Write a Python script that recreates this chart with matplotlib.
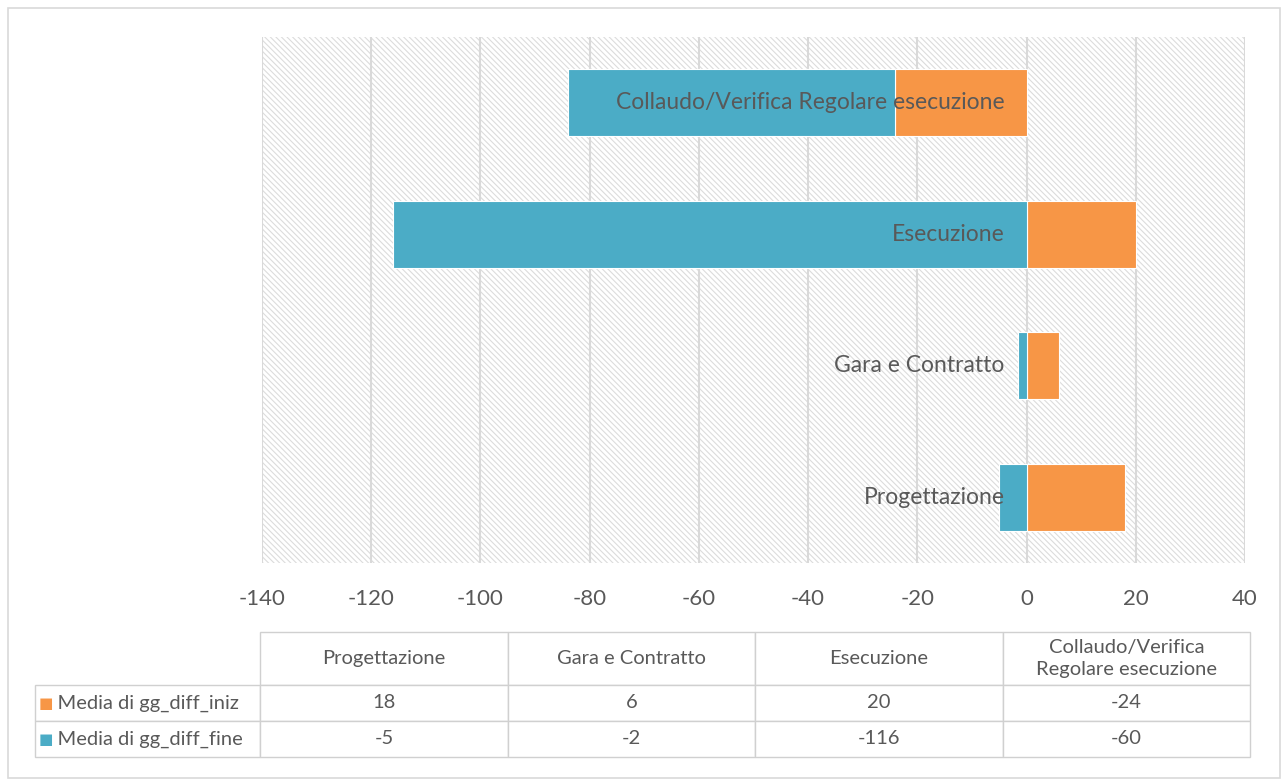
import numpy as np
import matplotlib
matplotlib.use("Agg")
import matplotlib.pyplot as plt
from matplotlib.patches import Rectangle

plt.rcParams["font.family"] = ["Lato", "DejaVu Sans"]
plt.rcParams["hatch.linewidth"] = 0.8

# data
categories = ["Progettazione", "Gara e Contratto", "Esecuzione",
              "Collaudo/Verifica Regolare esecuzione"]
table_headers = ["Progettazione", "Gara e Contratto", "Esecuzione",
                 "Collaudo/Verifica\nRegolare esecuzione"]
series_names = ["Media di gg_diff_iniz", "Media di gg_diff_fine"]
gg_diff_iniz = np.array([18, 6, 20, -24])
gg_diff_fine = np.array([-5, -1.5, -116, -60])
xticks = [-140, -120, -100, -80, -60, -40, -20, 0, 20, 40]

ORANGE = "#F79646"
TEAL = "#4BACC6"
TXT = "#595959"
GRID = "#d9d9d9"

fig = plt.figure(figsize=(12.87, 7.84), dpi=100)
ax = fig.add_axes([262 / 1287, 1 - 563 / 784, 983 / 1287, 526 / 784])

# hatched plot background
bg = Rectangle((0, 0), 1, 1, transform=ax.transAxes, facecolor="white",
               edgecolor="#dcdcdc", hatch="\\\\\\\\\\\\", lw=0, zorder=0)
ax.add_patch(bg)

y = np.arange(len(categories))
# Excel-style stacking: negatives stack on negatives
left_fine = np.where((gg_diff_iniz < 0) & (gg_diff_fine < 0), gg_diff_iniz, 0)
ax.barh(y, gg_diff_iniz, height=0.51, color=ORANGE, edgecolor="white",
        lw=0.8, zorder=3)
ax.barh(y, gg_diff_fine, left=left_fine, height=0.51, color=TEAL,
        edgecolor="white", lw=0.8, zorder=3)

for yi, name in zip(y, categories):
    ax.text(-4, yi, name, ha="right", va="center", fontsize=16.5, color=TXT,
            zorder=5)

ax.set_xlim(-140, 40)
ax.set_ylim(-0.5, 3.5)
ax.set_xticks(xticks)
ax.set_xticklabels([str(t) for t in xticks], fontsize=16, color=TXT)
ax.tick_params(axis="x", length=0, pad=19)
ax.set_yticks([])
ax.grid(axis="x", color=GRID, lw=1.5, zorder=1)
ax.set_axisbelow(True)
for s in ax.spines.values():
    s.set_visible(False)

# data table below the chart
cell_text = [[""] + table_headers,
             ["    " + series_names[0]] + [f"{v:.0f}" for v in gg_diff_iniz],
             ["    " + series_names[1]] + [f"{v:.0f}" for v in gg_diff_fine]]
widths = np.array([225, 247, 247, 247, 247], dtype=float)
x0 = (35 - 262) / 983
x1 = (1250 - 262) / 983
y0 = (563 - 757) / 526
y1 = (563 - 632) / 526
tab = ax.table(cellText=cell_text, colWidths=list(widths / widths.sum()),
               cellLoc="center", bbox=[x0, y0, x1 - x0, y1 - y0])
tab.auto_set_font_size(False)
row_h = [53, 36, 36]
for (r, c), cell in tab.get_celld().items():
    cell.set_edgecolor("#d0d0d0")
    cell.set_linewidth(1.0)
    cell.set_height(row_h[r])
    cell.get_text().set_fontsize(14.5)
    cell.get_text().set_color(TXT)
    cell.get_text().set_linespacing(1.35)
    if c == 0:
        cell.get_text().set_ha("left")
        cell._loc = "left"
        cell.PAD = 0.01
tab.get_celld()[(0, 0)].visible_edges = ""

# coloured legend keys in the row label cells
for k, col in enumerate([ORANGE, TEAL]):
    yc = 1 - (632 + 53 + 36 * k + 18) / 784
    fig.text(46 / 1287, yc, "■", color=col, fontsize=11, ha="center",
             va="center", family="DejaVu Sans")

# outer frame
fig.patches.append(Rectangle((8 / 1287, 6 / 784), 1272 / 1287, 770 / 784,
                             transform=fig.transFigure, fill=False,
                             edgecolor="#d9d9d9", lw=1.2))

fig.savefig("out.png", dpi=100)
